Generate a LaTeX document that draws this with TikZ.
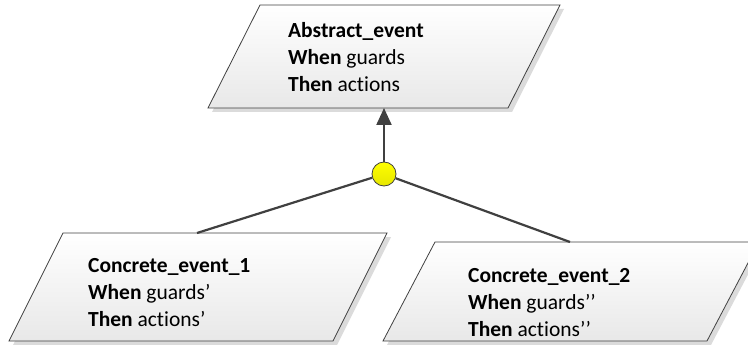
\documentclass[tikz,border=0pt]{standalone}
\usepackage{fontspec}
\setmainfont{Carlito}[Ligatures=NoCommon]
\usetikzlibrary{arrows.meta}
\definecolor{edge}{HTML}{404040}
\begin{document}
\begin{tikzpicture}[x=1pt,y=-1pt,
  shapebox/.style={draw=edge, line width=0.8pt, top color=white, bottom color=black!9},
  shadowbox/.style={fill=black!14},
  conn/.style={draw=edge, line width=2.2pt},
  txt/.style={align=left, anchor=north west, inner sep=0pt, font=\fontsize{21.5}{27}\selectfont},
  junction/.style={circle, draw=edge, line width=0.8pt, inner sep=0pt, minimum size=24pt, top color=yellow, bottom color=yellow!90!black}]
\useasboundingbox (0,0) rectangle (748,345);
% shadows
\begin{scope}[shift={(4,4)}]
  \fill[shadowbox] (260,5) -- (560,5) -- (508,108) -- (208,108) -- cycle;
  \fill[shadowbox] (63,233) -- (387,233) -- (333,341) -- (9,341) -- cycle;
  \fill[shadowbox] (435,242) -- (759,242) -- (707,341) -- (383,341) -- cycle;
\end{scope}
% shapes
\path[shapebox] (260,5) -- (560,5) -- (508,108) -- (208,108) -- cycle;
\path[shapebox] (63,233) -- (387,233) -- (333,341) -- (9,341) -- cycle;
\path[shapebox] (435,242) -- (759,242) -- (707,341) -- (383,341) -- cycle;
% texts
\node[txt] (abs) at (288,22) {\textbf{Abstract\_event}\\\textbf{When} guards\\\textbf{Then} actions};
\node[txt] (c1) at (88,258) {\textbf{Concrete\_event\_1}\\\textbf{When} guards’\\\textbf{Then} actions’};
\node[txt] (c2) at (468,268) {\textbf{Concrete\_event\_2}\\\textbf{When} guards’’\\\textbf{Then} actions’’};
% attachment points
\coordinate (absbot) at (384,108);
\coordinate (c1top) at (197,233);
\coordinate (c2top) at (570,242);
% connectors
\node[junction] (j) at (384,174) {};
\draw[conn] (j) -- (c1top);
\draw[conn] (j) -- (c2top);
\draw[conn, -{Triangle[width=15pt,length=17pt]}] (j) -- (absbot);
\end{tikzpicture}
\end{document}
